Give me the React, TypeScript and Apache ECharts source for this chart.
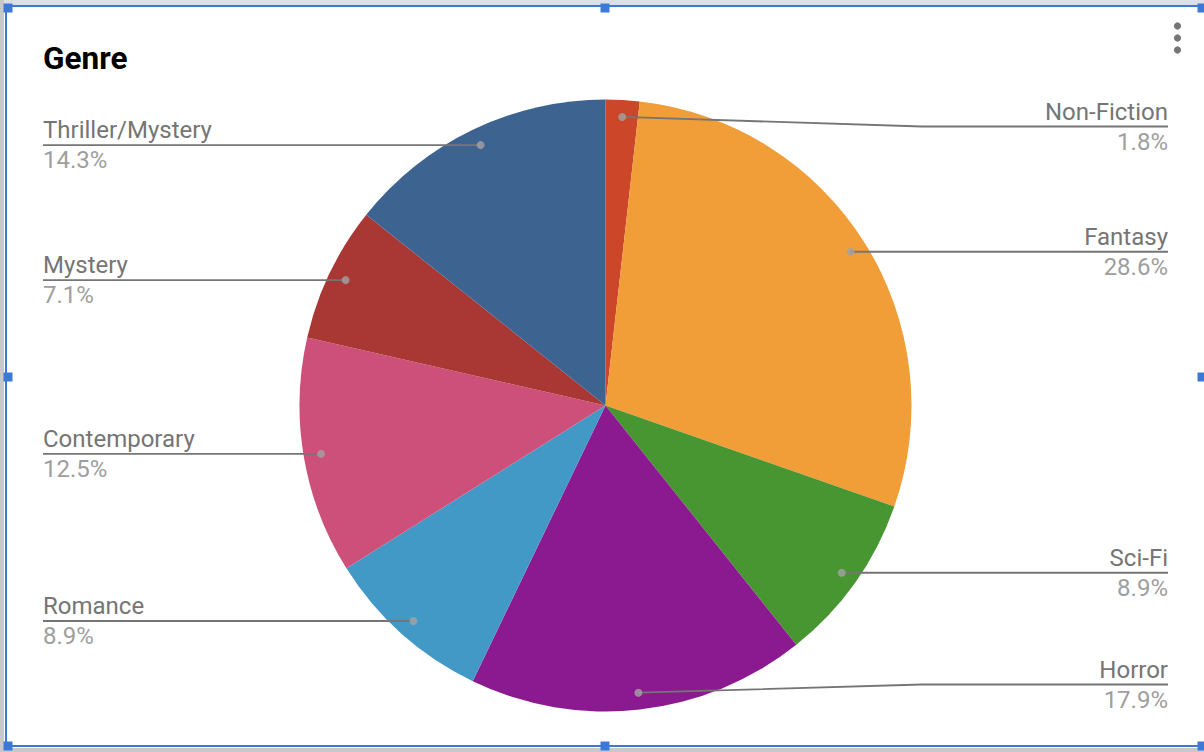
import { useRef, useEffect } from "react";
import * as echarts from "echarts";

// genre counts behind the percentages shown on the slices
const genres = [
  "Non-Fiction",
  "Fantasy",
  "Sci-Fi",
  "Horror",
  "Romance",
  "Contemporary",
  "Mystery",
  "Thriller/Mystery",
];
const counts = [1, 16, 5, 10, 5, 7, 4, 8];
const sliceColors = [
  "#cc4629",
  "#f19e38",
  "#479632",
  "#8b1a91",
  "#4399c5",
  "#cc5079",
  "#a93835",
  "#3d6391",
];

const CX = 606;
const CY = 405.5;
const R = 306;
const DOT_R = 289;
const LABEL_PAD = 27; // label lines stay this far inside the pie's top/bottom
const FRAME = "#3c78d8";

const App = () => {
  const chartRef = useRef<HTMLDivElement>(null);

  useEffect(() => {
    if (!chartRef.current) return;
    const myChart = echarts.init(chartRef.current, null, { renderer: "svg" });

    const total = counts.reduce((a, b) => a + b, 0);
    // middle of every slice, in data units, for the little grey dots
    const mids: number[] = [];
    let acc = 0;
    counts.forEach((c) => {
      mids.push(acc + c / 2);
      acc += c;
    });

    const pieData = genres.map((name, i) => ({
      name,
      value: counts[i],
      itemStyle: { color: sliceColors[i] },
    }));

    // box of the pie series: labels are pushed to its left/right edges
    const box = { left: 43, right: 36, top: CY - R, bottom: 752 - (CY + R) };

    const handle = (x: number, y: number) => ({
      type: "rect",
      shape: { x: x - 4.5, y: y - 4.5, width: 9, height: 9 },
      style: { fill: FRAME },
      z: 100,
    });

    const option: any = {
      animation: false,
      backgroundColor: "#fff",
      title: {
        text: "Genre",
        left: 43,
        top: 42,
        padding: 0,
        textStyle: {
          fontFamily: "Roboto",
          fontWeight: "bold",
          fontSize: 31.5,
          color: "#000",
        },
      },
      polar: { center: [CX, CY], radius: DOT_R },
      angleAxis: {
        type: "value",
        min: 0,
        max: total,
        startAngle: 90,
        clockwise: true,
        show: false,
      },
      radiusAxis: { type: "value", min: 0, max: 1, show: false },
      series: [
        {
          type: "pie",
          ...box,
          z: 1,
          center: ["50%", "50%"],
          radius: [0, R],
          startAngle: 90,
          silent: true,
          label: { show: false },
          labelLine: { show: false },
          data: pieData,
        },
        {
          // invisible copy of the pie, smaller, so the label lines start inside the slices
          type: "pie",
          ...box,
          z: 3,
          center: ["50%", "50%"],
          radius: [0, DOT_R],
          startAngle: 90,
          silent: true,
          avoidLabelOverlap: false,
          percentPrecision: 1,
          itemStyle: { color: "rgba(0,0,0,0)" },
          label: {
            show: true,
            position: "outside",
            alignTo: "edge",
            edgeDistance: 0,
            formatter: "{n|{b}}\n{p|{d}%}",
            rich: {
              n: {
                fontFamily: "Roboto",
                fontSize: 24,
                lineHeight: 30,
                color: "#757575",
              },
              p: {
                fontFamily: "Roboto",
                fontSize: 24,
                lineHeight: 30,
                color: "#9e9e9e",
              },
            },
          },
          labelLine: {
            show: true,
            length: 0,
            length2: 10,
            smooth: false,
            lineStyle: { color: "#757575", width: 1.8 },
          },
          labelLayout: (params: any) => {
            const rect = params.labelRect;
            const isLeft = rect.x < CX;
            const p0 = params.labelLinePoints[0];
            const y = Math.min(
              Math.max(p0[1], CY - R + LABEL_PAD),
              CY + R - LABEL_PAD
            );
            const elbow = isLeft ? CX - R - 10 : CX + R + 10;
            const end = isLeft ? rect.x : rect.x + rect.width;
            return {
              y,
              labelLinePoints: [
                [p0[0], p0[1]],
                [elbow, y],
                [end, y],
              ],
            };
          },
          data: genres.map((name, i) => ({ name, value: counts[i] })),
        },
        {
          type: "scatter",
          coordinateSystem: "polar",
          silent: true,
          symbol: "circle",
          symbolSize: 8,
          itemStyle: { color: "#a3a3a3" },
          z: 10,
          data: mids.map((m) => [1, m]),
        },
      ],
      graphic: [
        // spreadsheet bits showing around the selected chart
        { type: "rect", shape: { x: 0, y: 0, width: 1204, height: 5 }, style: { fill: "#dcdfe3" }, z: 90 },
        { type: "rect", shape: { x: 0, y: 0, width: 4, height: 752 }, style: { fill: "#c8c8c8" }, z: 90 },
        { type: "rect", shape: { x: 0, y: 748, width: 1204, height: 4 }, style: { fill: "#c8c8c8" }, z: 90 },
        // selection frame
        { type: "rect", shape: { x: 5, y: 5, width: 1204, height: 2 }, style: { fill: FRAME }, z: 95 },
        { type: "rect", shape: { x: 5, y: 5, width: 2, height: 742 }, style: { fill: FRAME }, z: 95 },
        { type: "rect", shape: { x: 5, y: 745, width: 1204, height: 2 }, style: { fill: FRAME }, z: 95 },
        handle(8, 8),
        handle(605, 8),
        handle(1202, 8),
        handle(8, 377),
        handle(1202, 377),
        handle(8, 746),
        handle(605, 746),
        handle(1202, 746),
        // kebab menu
        { type: "circle", shape: { cx: 1177.5, cy: 26, r: 3.6 }, style: { fill: "#757575" }, z: 100 },
        { type: "circle", shape: { cx: 1177.5, cy: 38, r: 3.6 }, style: { fill: "#757575" }, z: 100 },
        { type: "circle", shape: { cx: 1177.5, cy: 50, r: 3.6 }, style: { fill: "#757575" }, z: 100 },
      ],
    };

    myChart.setOption(option);

    return () => {
      myChart.dispose();
    };
  }, []);

  return (
    <div
      ref={chartRef}
      style={{ position: "fixed", left: 0, top: 0, width: 1204, height: 752 }}
    ></div>
  );
};

export default App;
